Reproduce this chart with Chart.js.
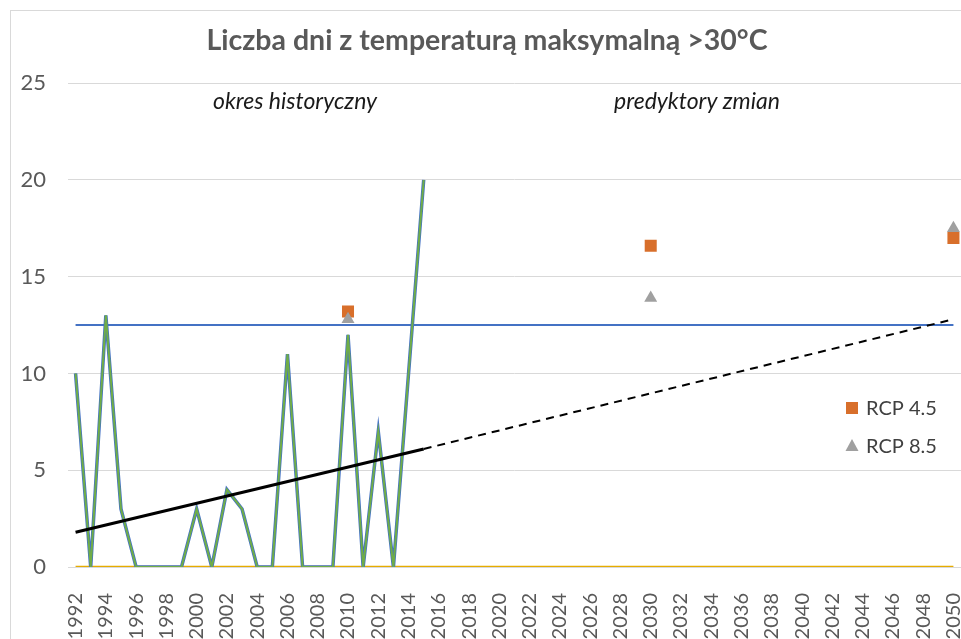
<!DOCTYPE html>
<html>
<head>
<meta charset="utf-8">
<script src="https://cdn.jsdelivr.net/npm/chart.js"></script>
<style>
html, body { margin: 0; padding: 0; background: #fff; overflow: hidden; }
#frame { position: absolute; left: 10px; top: 10px; width: 1000px; height: 700px;
         border-left: 1px solid #d9d9d9; border-top: 1px solid #d9d9d9; }
#wrap { position: absolute; left: 0; top: 0; width: 975px; height: 660px; }
</style>
</head>
<body>
<div id="frame"></div>
<div id="wrap"><canvas id="myChart"></canvas></div>
<script>
// categories (years on the x axis)
var years = ['1992','1993','1994','1995','1996','1997','1998','1999','2000','2001',
             '2002','2003','2004','2005','2006','2007','2008','2009','2010','2011',
             '2012','2013','2014','2015','2016','2017','2018','2019','2020','2021',
             '2022','2023','2024','2025','2026','2027','2028','2029','2030','2031',
             '2032','2033','2034','2035','2036','2037','2038','2039','2040','2041',
             '2042','2043','2044','2045','2046','2047','2048','2049','2050'];

// observed days > 30 C, 1992-2015
var observed = [10, 0, 13, 3, 0, 0, 0, 0, 3, 0, 4, 3, 0, 0, 11, 0, 0, 0, 12, 0, 7, 0, 10, 20];

// threshold line
var thresholdYears = ['1992', '2050'];
var thresholdValues = [12.5, 12.5];

// zero line
var zeroValues = [0, 0];

// linear trend (solid on the observed period, dashed as extrapolation)
var trendYears = ['1992', '2015'];
var trendValues = [1.8, 6.1];
var trendFutureYears = ['2015', '2050'];
var trendFutureValues = [6.1, 12.8];

// scenario points
var rcpYears = ['2010', '2030', '2050'];
var rcp45 = [13.2, 16.6, 17.0];
var rcp85 = [12.8, 13.9, 17.5];

var yTicks = [0, 5, 10, 15, 20, 25];

function pairs(xs, ys) {
  return ys.map(function (v, i) { return { x: xs[i], y: v }; });
}

var grey = '#595959';
var fontName = 'Lato, "Open Sans", sans-serif';

// texts inside the plot + custom legend
var extrasPlugin = {
  id: 'extras',
  afterDatasetsDraw: function (chart) {
    var ctx = chart.ctx;
    var area = chart.chartArea;
    ctx.save();
    ctx.fillStyle = '#1a1a1a';
    ctx.font = 'italic 23px ' + fontName;
    ctx.textAlign = 'center';
    ctx.textBaseline = 'middle';
    ctx.fillText('okres historyczny', 295, 102);
    ctx.fillText('predyktory zmian', 697, 102);

    // legend
    var lx = area.right - 109, ly1 = 408, ly2 = 446;
    ctx.fillStyle = '#D86F2B';
    ctx.fillRect(lx - 6, ly1 - 6, 12, 12);
    ctx.fillStyle = '#A0A0A0';
    ctx.beginPath();
    ctx.moveTo(lx, ly2 - 7);
    ctx.lineTo(lx + 6.5, ly2 + 5);
    ctx.lineTo(lx - 6.5, ly2 + 5);
    ctx.closePath();
    ctx.fill();
    ctx.fillStyle = '#404040';
    ctx.font = '20px ' + fontName;
    ctx.textAlign = 'left';
    ctx.fillText('RCP 4.5', lx + 14, ly1 + 1);
    ctx.fillText('RCP 8.5', lx + 14, ly2 + 1);
    ctx.restore();
  }
};

var element = document.getElementById('myChart').getContext('2d');

var chartData = {
  labels: years,
  datasets: [
    {
      label: 'RCP 8.5',
      data: pairs(rcpYears, rcp85),
      showLine: false,
      pointStyle: 'triangle',
      pointRadius: 7.5,
      pointBackgroundColor: '#A0A0A0',
      pointBorderWidth: 0,
      borderColor: '#A0A0A0'
    },
    {
      label: 'RCP 4.5',
      data: pairs(rcpYears, rcp45),
      showLine: false,
      pointStyle: 'rect',
      pointRadius: 8.5,
      pointBackgroundColor: '#D86F2B',
      pointBorderWidth: 0,
      borderColor: '#D86F2B'
    },
    {
      label: 'trend',
      data: pairs(trendYears, trendValues),
      borderColor: '#000000',
      borderWidth: 3,
      pointRadius: 0
    },
    {
      label: 'trend future',
      data: pairs(trendFutureYears, trendFutureValues),
      borderColor: '#000000',
      borderWidth: 2,
      borderDash: [8, 6],
      pointRadius: 0
    },
    {
      label: 'observed',
      data: pairs(years, observed),
      borderColor: '#70AD47',
      borderWidth: 2,
      pointRadius: 0
    },
    {
      label: 'observed edge',
      data: pairs(years, observed),
      borderColor: '#4472C4',
      borderWidth: 3.5,
      pointRadius: 0
    },
    {
      label: 'threshold',
      data: pairs(thresholdYears, thresholdValues),
      borderColor: '#4472C4',
      borderWidth: 2,
      pointRadius: 0
    },
    {
      label: 'zero',
      data: pairs(thresholdYears, zeroValues),
      borderColor: '#E6AC00',
      borderWidth: 2.5,
      pointRadius: 0
    }
  ]
};

var chartOptions = {
  responsive: true,
  maintainAspectRatio: false,
  animation: false,
  layout: { padding: { left: 13, right: 14, top: 0, bottom: 0 } },
  plugins: {
    legend: { display: false },
    tooltip: { enabled: false },
    title: {
      display: true,
      text: 'Liczba dni z temperaturą maksymalną >30°C',
      color: grey,
      font: { family: fontName, size: 28.5, weight: 'bold' },
      padding: { top: 24, bottom: 25 }
    }
  },
  scales: {
    x: {
      type: 'category',
      offset: true,
      grid: { display: false, drawTicks: false },
      border: { color: '#d9d9d9', width: 1 },
      ticks: {
        autoSkip: false,
        maxRotation: 90,
        minRotation: 90,
        padding: 26,
        color: grey,
        font: { family: fontName, size: 20 },
        callback: function (v, i) { return i % 2 === 0 ? years[i] : ''; }
      },
      afterFit: function (s) {
        s.height = 93;
        s.paddingLeft = 0;
        s.paddingRight = 0;
      }
    },
    y: {
      min: yTicks[0],
      max: yTicks[yTicks.length - 1],
      grid: { color: '#d9d9d9', lineWidth: 1, drawTicks: false },
      border: { display: false },
      ticks: {
        stepSize: 5,
        padding: 22,
        color: grey,
        font: { family: fontName, size: 22 }
      },
      afterFit: function (s) { s.width = 55; }
    }
  }
};

var chart = new Chart(element, { type: 'line', data: chartData, options: chartOptions, plugins: [extrasPlugin] });
</script>
</body>
</html>
